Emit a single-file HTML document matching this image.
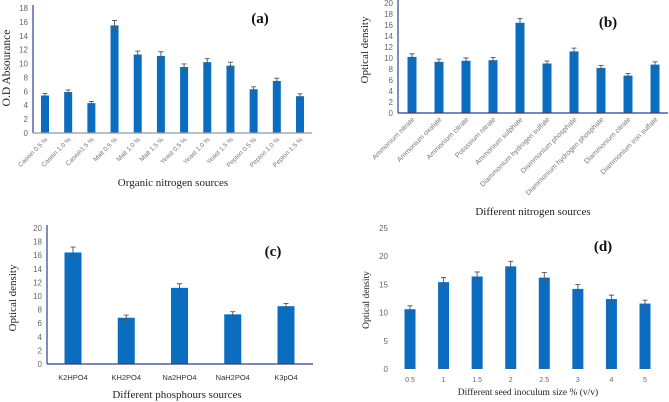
<!DOCTYPE html>
<html><head><meta charset="utf-8"><style>
html,body{margin:0;padding:0;background:#fff;}
svg{display:block;font-family:"Liberation Sans",sans-serif;}
.serif{font-family:"Liberation Serif",serif;}
</style></head><body>
<svg id="fig" width="669" height="402" viewBox="0 0 669 402" xmlns="http://www.w3.org/2000/svg"></svg>
<script>
const aCats=["Casein 0.5 %","Casein 1.0 %","Casein1.5 %","Malt 0.5 %","Malt 1.0 %","Malt 1.5 %","Yeast 0.5 %","Yeast 1.0 %","Yeast 1.5 %","Pepton 0.5 %","Pepton 1.0 %","Pepton 1.5 %"];
const aVals=[5.4,5.9,4.3,15.5,11.3,11.1,9.5,10.2,9.7,6.3,7.5,5.3];
const aErr=[0.3,0.3,0.25,0.7,0.5,0.6,0.45,0.5,0.5,0.35,0.4,0.35];
const aTicks=[0,2,4,6,8,10,12,14,16,18];
const bCats=["Ammonium nitrate","Ammonium oxalate","Ammonium citrate","Potassium nitrate","Ammonium sulphate","Diammonium hydrogen sulfate","Diammonium phosphate","Diammonium hydrogen phosphate","Diammonium citrate","Diammonium iron sulfate"];
const bVals=[10.2,9.3,9.5,9.6,16.4,9.0,11.2,8.2,6.8,8.8];
const bErr=[0.55,0.5,0.5,0.5,0.8,0.45,0.6,0.45,0.4,0.5];
const bTicks=[0,2,4,6,8,10,12,14,16,18,20];
const cCats=["K2HPO4","KH2PO4","Na2HPO4","NaH2PO4","K3pO4"];
const cVals=[16.4,6.8,11.2,7.3,8.5];
const cErr=[0.8,0.4,0.6,0.4,0.4];
const cTicks=[0,2,4,6,8,10,12,14,16,18,20];
const dCats=["0.5","1","1.5","2","2.5","3","4","5"];
const dVals=[10.6,15.4,16.4,18.2,16.2,14.2,12.4,11.6];
const dErr=[0.6,0.8,0.8,0.9,0.9,0.8,0.7,0.6];
const dTicks=[0,5,10,15,20,25];

const NS="http://www.w3.org/2000/svg";
const svg=document.getElementById('fig');
function mk(tag,attrs,parent,text){const e=document.createElementNS(NS,tag);for(const k in attrs)e.setAttribute(k,attrs[k]);if(text!==undefined)e.textContent=text;(parent||svg).appendChild(e);return e;}

function panel(p){
  const g=mk('g',{});
  
  
  const max=p.ticks[p.ticks.length-1];
  const y=v=>p.y0-(v/max)*(p.y0-p.yTop);
  const x=i=>p.x1+i*(p.x2-p.x1)/(p.cats.length-1);
  p.ticks.forEach(t=>{
    const tl=mk('text',{x:p.ax-5,y:y(t)+3,'font-size':8,'text-anchor':'end',fill:'#666'},g,String(t));
    
    
  });
  p.vals.forEach((v,i)=>{
    const r=mk('rect',{x:x(i)-p.bw/2,y:y(v),width:p.bw,height:p.y0-y(v),fill:'#0b6dc0'},g);
    
    
    const e=p.err[i];
    const eb=mk('path',{d:`M${x(i)} ${y(v+e)}V${y(v-e)}M${x(i)-2.5} ${y(v+e)}h5M${x(i)-2.5} ${y(v-e)}h5`,stroke:'#555','stroke-width':0.9,fill:'none'},g);
    
    
    let lab;
    if(p.rot){
      lab=mk('text',{x:x(i)+3,y:p.y0+7,'font-size':p.lfs,'text-anchor':'end',fill:'#777',transform:`rotate(-45 ${x(i)+3} ${p.y0+7})`},g,p.cats[i]);
    } else {
      lab=mk('text',{x:x(i),y:p.ly,'font-size':p.lfs,'text-anchor':'middle',fill:p.lcol||'#333'},g,p.cats[i]);
    }
    
    
  });
  const ya=mk('line',{x1:p.ax,y1:p.yTop-3,x2:p.ax,y2:p.y0,stroke:p.acol,'stroke-width':1.2},g);
  
  
  const xa=mk('line',{x1:p.ax,y1:p.y0,x2:p.axEnd,y2:p.y0,stroke:p.xcol||p.acol,'stroke-width':1.2},g);
  
  
  const xt=mk('text',{x:p.tx,y:p.ty,'font-size':p.tfs,'text-anchor':'middle',fill:'#222',class:'serif'},g,p.xtitle);
  
  
  const yt=mk('text',{x:p.yx,y:p.yy,'font-size':p.yfs,'text-anchor':'middle',fill:'#222',class:'serif',transform:`rotate(-90 ${p.yx} ${p.yy})`},g,p.ytitle);
  
  
  const pl=mk('text',{x:p.px,y:p.py,'font-size':15,'font-weight':'bold','text-anchor':'middle',fill:'#111',class:'serif'},g,'('+p.id+')');
  
  
}

panel({id:'a',cats:aCats,vals:aVals,err:aErr,ticks:aTicks,ax:33,axEnd:312,y0:133,yTop:8,x1:45,x2:300,bw:8,rot:true,lfs:6.5,acol:'#2f3f8f',xcol:'#8a9bb0',xtitle:'Organic nitrogen sources',tx:173,ty:186,tfs:11,ytitle:'O.D Absourance',yx:10,yy:68,yfs:11.5,px:260,py:23});
panel({id:'b',cats:bCats,vals:bVals,err:bErr,ticks:bTicks,ax:398,axEnd:668,y0:113,yTop:3,x1:412,x2:655,bw:9,rot:true,lfs:7,acol:'#2f3f8f',xtitle:'Different nitrogen sources',tx:533,ty:215,tfs:11,ytitle:'Optical density',yx:368,yy:50,yfs:11,px:608,py:27});
panel({id:'c',cats:cCats,vals:cVals,err:cErr,ticks:cTicks,ax:47,axEnd:313,y0:364,yTop:228,x1:73,x2:286,bw:17,rot:false,ly:380,lfs:7.5,acol:'#2f3f8f',xtitle:'Different phosphours sources',tx:177,ty:398,tfs:11,ytitle:'Optical density',yx:16,yy:298,yfs:11,px:273,py:256});
panel({id:'d',cats:dCats,vals:dVals,err:dErr,ticks:dTicks,ax:393,axEnd:660,y0:369,yTop:228,x1:410,x2:645,bw:11,rot:false,ly:382,lfs:7,lcol:'#666',xtitle:'Different seed inoculum size % (v/v)',tx:528,ty:395,tfs:9.5,ytitle:'Optical density',yx:369,yy:300,yfs:9.5,px:603,py:251});
</script>
</body></html>
